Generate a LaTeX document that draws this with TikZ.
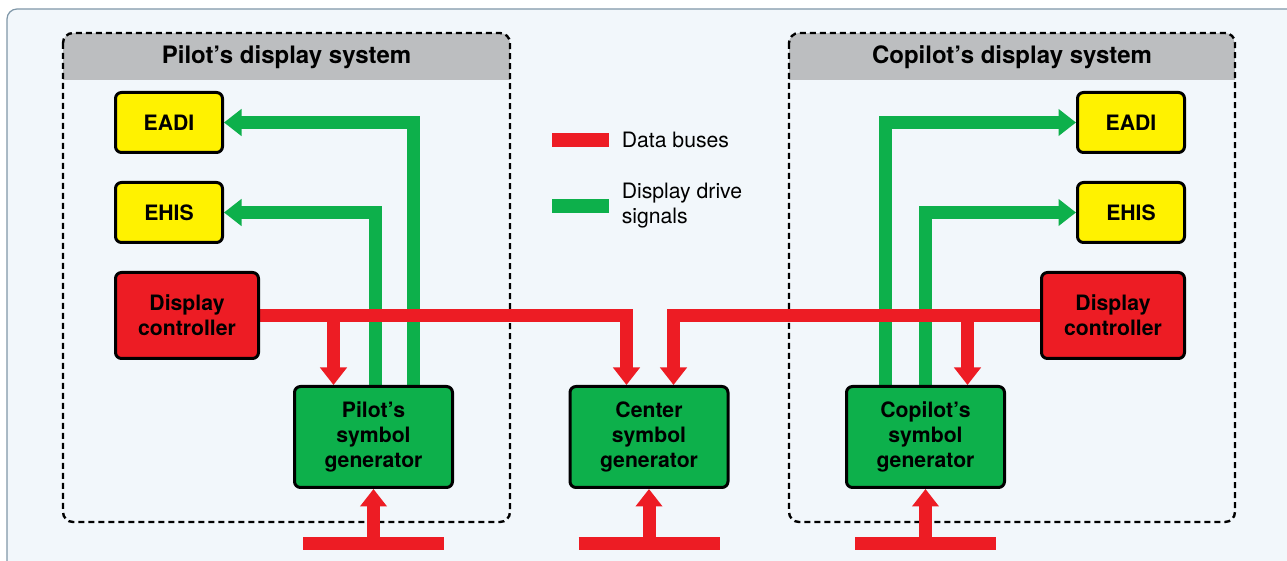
\documentclass[tikz,border=0pt]{standalone}
\usepackage{fontspec}
\setmainfont{TeX Gyre Heros}
\usetikzlibrary{arrows.meta,positioning,calc}
\pgfdeclarelayer{bg}
\pgfsetlayers{bg,main}
\definecolor{busred}{HTML}{ED1C24}
\definecolor{drivegreen}{HTML}{0DB04B}
\definecolor{unityellow}{HTML}{FFF200}
\definecolor{hdrgray}{HTML}{BCBEC0}
\definecolor{panelfill}{HTML}{F2F7FB}
\definecolor{panelline}{HTML}{7F97A8}
\tikzset{
  unitbox/.style={draw=black,line width=1.5pt,rounded corners=3pt,align=center,
    font=\fontsize{10.6}{12.7}\selectfont\bfseries,inner sep=0pt},
  disp/.style={unitbox,fill=unityellow,minimum width=53.5pt,minimum height=30pt},
  ctrl/.style={unitbox,fill=busred,minimum width=71.5pt,minimum height=43pt},
  symgen/.style={unitbox,fill=drivegreen,minimum width=79pt,minimum height=50.5pt},
  bus/.style={busred,line width=6.5pt},
  drive/.style={drivegreen,line width=6.5pt},
  sysbox/.style={dash pattern=on 3pt off 2pt,line width=1.2pt,rounded corners=5pt},
  systitle/.style={font=\fontsize{12}{14}\selectfont\bfseries,inner sep=0pt},
  legbar/.style={minimum width=28.5pt,minimum height=7pt,inner sep=0pt},
  legtext/.style={font=\fontsize{10.6}{12.5}\selectfont,align=left,anchor=west,inner sep=0pt}
}
\begin{document}
\begin{tikzpicture}[x=0.5pt,y=-0.5pt,>={Triangle[width=13pt,length=8.75pt]}]
    \clip (0,0) rectangle (1287,561);

    \node[disp] (pEADI) at (169,122.5) {EADI};
    \node[disp] (pEHIS) at (169,212.5) {EHIS};
    \node[ctrl] (pCtrl) at (187,315.5) {Display\\controller};
    \node[symgen] (pSG) at (373.5,437) {Pilot’s\\symbol\\generator};
    \node[symgen] (cSG) at (649,437) {Center\\symbol\\generator};
    \node[symgen] (coSG) at (925.5,437) {Copilot’s\\symbol\\generator};
    \node[disp] (coEADI) at (1131,122.5) {EADI};
    \node[disp] (coEHIS) at (1131,212.5) {EHIS};
    \node[ctrl] (coCtrl) at (1113,315.5) {Display\\controller};

    \node[systitle] (pTitle) at (286.5,57) {Pilot’s display system};
    \node[systitle] (coTitle) at (1012,57) {Copilot’s display system};

    \node[legbar,fill=busred] (legBus) at (580.5,140) {};
    \node[legtext,right=6pt of legBus] (legBusTxt) {Data buses};
    \node[legbar,fill=drivegreen] (legDrive) at (580.5,206) {};
    \node[legtext,right=6pt of legDrive] (legDriveTxt) {Display drive\\signals};

    \begin{pgfonlayer}{bg}
        \fill[panelfill,draw=panelline,line width=0.6pt,rounded corners=5pt] (7,9) rectangle (1320,600);

        \begin{scope}
            \clip[rounded corners=5pt] (63,33) rectangle (510,522);
            \fill[hdrgray] (63,33) rectangle (510,80);
        \end{scope}
        \begin{scope}
            \clip[rounded corners=5pt] (789,33) rectangle (1235,522);
            \fill[hdrgray] (789,33) rectangle (1235,80);
        \end{scope}
        \draw[sysbox] (63,33) rectangle (510,522);
        \draw[sysbox] (789,33) rectangle (1235,522);

        \draw[drive,->] ($(pSG.north)+(40,0)$) |- (pEADI.east);
        \draw[drive,->] ($(pSG.north)+(2,0)$) |- (pEHIS.east);
        \draw[drive,->] ($(coSG.north)+(-40,0)$) |- (coEADI.west);
        \draw[drive,->] (coSG.north) |- (coEHIS.west);

        \coordinate (pDrop) at ($(pSG.north)+(-40,0)$);
        \coordinate (cDropL) at ($(cSG.north)+(-22.5,0)$);
        \coordinate (cDropR) at ($(cSG.north)+(24.5,0)$);
        \coordinate (coDrop) at ($(coSG.north)+(42,0)$);
        \draw[bus,->] (pCtrl.east) -| (cDropL);
        \draw[bus,->] (coCtrl.west) -| (cDropR);
        \draw[bus,->] (pDrop |- pCtrl.east) -- (pDrop);
        \draw[bus,->] (coDrop |- coCtrl.west) -- (coDrop);

        \coordinate (pFeed) at ($(pSG.south)+(0,55)$);
        \coordinate (cFeed) at ($(cSG.south)+(0,55)$);
        \coordinate (coFeed) at ($(coSG.south)+(0,55)$);
        \draw[bus] ($(pFeed)+(-70.5,0)$) -- ($(pFeed)+(70.5,0)$);
        \draw[bus] ($(cFeed)+(-70.5,0)$) -- ($(cFeed)+(70.5,0)$);
        \draw[bus] ($(coFeed)+(-70.5,0)$) -- ($(coFeed)+(70.5,0)$);
        \draw[bus,->] (pFeed) -- (pSG.south);
        \draw[bus,->] (cFeed) -- (cSG.south);
        \draw[bus,->] (coFeed) -- (coSG.south);
    \end{pgfonlayer}
\end{tikzpicture}
\end{document}
